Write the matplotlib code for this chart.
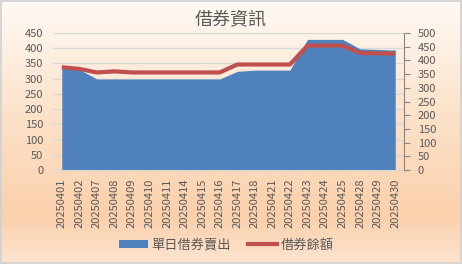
import numpy as np
import matplotlib
matplotlib.use("Agg")
import matplotlib.pyplot as plt
from matplotlib.patches import Rectangle, Patch
from matplotlib.lines import Line2D

plt.rcParams['font.family'] = ['Noto Sans CJK TC', 'DejaVu Sans']

dates = ["20250401", "20250402", "20250407", "20250408", "20250409", "20250410",
         "20250411", "20250414", "20250415", "20250416", "20250417", "20250418",
         "20250421", "20250422", "20250423", "20250424", "20250425", "20250428",
         "20250429", "20250430"]
daily_sell = [335, 330, 299, 299, 299, 299, 299, 299, 299, 299,
              324, 328, 328, 328, 429, 429, 429, 398, 396, 394]
balance = [375, 369, 356, 360, 356, 356, 356, 356, 356, 356,
           385, 385, 385, 385, 454, 454, 454, 427, 426, 425]

W, H = 462, 264
fig = plt.figure(figsize=(W / 100, H / 100), dpi=100)

# gradient background
bg = fig.add_axes([0, 0, 1, 1], zorder=-10)
stops = [0.0, 0.45, 0.82, 1.0]
cols = np.array([[255, 250, 245], [252, 225, 200], [251, 208, 172], [253, 228, 208]]) / 255
t = np.linspace(0, 1, 264)
grad = np.stack([np.interp(t, stops, cols[:, k]) for k in range(3)], axis=1)
bg.imshow(grad[:, None, :].repeat(2, axis=1), aspect='auto', extent=[0, 1, 0, 1])
bg.set_axis_off()
bg.add_patch(Rectangle((0.002, 0.004), 0.996, 0.992, fill=False,
                       edgecolor='#D0D0D0', linewidth=1.2, transform=bg.transAxes))

ax = fig.add_axes([53 / W, 1 - 170 / H, (404 - 53) / W, (170 - 33) / H])
ax.patch.set_alpha(0)
x = np.arange(len(dates))
ax.fill_between(x, daily_sell, 0, color='#4F81BD', linewidth=0, zorder=2)
ax.set_xlim(-0.5, len(dates) - 0.5)
ax.set_ylim(0, 450)
ax.set_yticks(range(0, 451, 50))
ax.grid(axis='y', color='#D9D9D9', linewidth=1, zorder=0)
ax.set_axisbelow(True)
for s in ['top', 'right', 'left']:
    ax.spines[s].set_visible(False)
ax.spines['bottom'].set_color('#D9D9D9')
ax.tick_params(axis='y', length=0, labelsize=8, colors='#595959', pad=7)
ax.set_xticks(np.arange(-0.5, len(dates), 1), minor=True)
ax.set_xticks(x)
ax.set_xticklabels(dates, rotation=90)
ax.tick_params(axis='x', which='major', length=0, labelsize=8, colors='#595959', pad=6)
ax.tick_params(axis='x', which='minor', length=4, color='#D9D9D9')

ax2 = ax.twinx()
ax2.plot(x, balance, color='#C0504D', linewidth=3, solid_capstyle='butt', zorder=3)
ax2.set_ylim(0, 500)
ax2.set_yticks(range(0, 501, 50))
for s in ['top', 'left', 'bottom']:
    ax2.spines[s].set_visible(False)
ax2.spines['right'].set_color('#868686')
ax2.tick_params(axis='y', length=4, color='#868686', labelsize=8, labelcolor='#595959', pad=6)

fig.text(0.5, 1 - 20 / H, '借券資訊', ha='center', va='center', fontsize=13, color='#595959')

handles = [Patch(facecolor='#4F81BD', edgecolor='none'),
           Line2D([0], [0], color='#C0504D', linewidth=3)]
fig.legend(handles, ['單日借券賣出', '借券餘額'], loc='center', ncol=2,
           bbox_to_anchor=(0.49, 1 - 245 / H), frameon=False, fontsize=9.5,
           labelcolor='#595959', handlelength=2.2, handleheight=0.5,
           columnspacing=1.3, handletextpad=0.3)

fig.savefig('out.png', dpi=100)
